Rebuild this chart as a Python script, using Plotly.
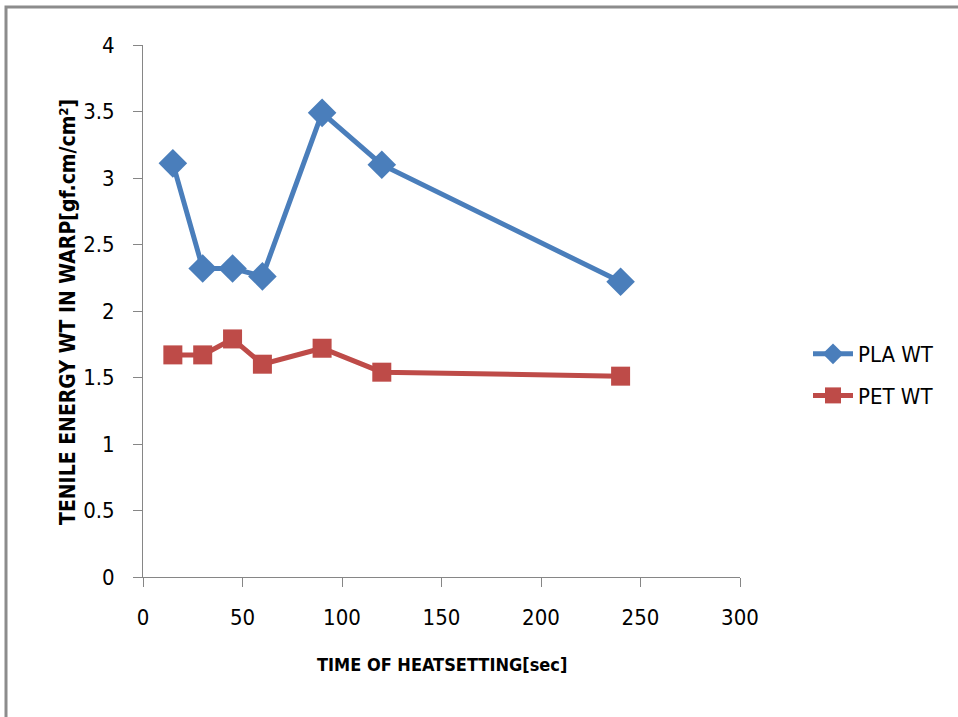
import plotly.graph_objects as go

time_sec = [15, 30, 45, 60, 90, 120, 240]
pla_wt = [3.11, 2.32, 2.32, 2.26, 3.49, 3.10, 2.22]
pet_wt = [1.67, 1.67, 1.79, 1.60, 1.72, 1.54, 1.51]

x_ticks = [0, 50, 100, 150, 200, 250, 300]
y_ticks = [0, 0.5, 1, 1.5, 2, 2.5, 3, 3.5, 4]
y_ticktext = ["0", "0.5", "1", "1.5", "2", "2.5", "3", "3.5", "4"]

FONT = "Liberation Sans Narrow, DejaVu Sans Condensed, Arial Narrow, sans-serif"

fig = go.Figure()
fig.add_trace(go.Scatter(
    x=time_sec, y=pla_wt, name="PLA WT", mode="lines+markers", legendgroup="a",
    line=dict(color="#4A7EBB", width=5),
    marker=dict(symbol="diamond", size=22, color="#4A7EBB"),
))
fig.add_trace(go.Scatter(
    x=time_sec, y=pet_wt, name="PET WT", mode="lines+markers", legendgroup="b",
    line=dict(color="#BE4B48", width=5),
    marker=dict(symbol="square", size=19, color="#BE4B48"),
))

L, R, T, B = 143, 218, 45, 140
W, H = 958, 717
pw, ph = W - L - R, H - T - B

fig.update_layout(
    width=W, height=H,
    margin=dict(l=L, r=R, t=T, b=B),
    paper_bgcolor="white", plot_bgcolor="white",
    font=dict(family=FONT, color="#000000", size=22),
    showlegend=True,
    legend=dict(x=(808 - L) / pw, y=(577 - 333) / ph, xanchor="left", yanchor="top",
                font=dict(size=22, family=FONT), tracegroupgap=10,
                bgcolor="rgba(0,0,0,0)", itemwidth=40),
    xaxis=dict(range=[0, 300], tickvals=x_ticks, ticktext=[str(v) for v in x_ticks],
               showgrid=False, zeroline=False, showline=True, linecolor="#868686",
               linewidth=1, ticks="outside", ticklen=9, tickcolor="#868686",
               tickfont=dict(size=22, family=FONT), ticklabelstandoff=12),
    yaxis=dict(range=[0, 4], tickvals=y_ticks, ticktext=y_ticktext,
               showgrid=False, zeroline=False, showline=True, linecolor="#868686",
               linewidth=1, ticks="outside", ticklen=9, tickcolor="#868686",
               tickfont=dict(size=22, family=FONT), ticklabelstandoff=14),
    annotations=[
        dict(text="<b>TIME OF HEATSETTING[sec]</b>", xref="paper", yref="paper",
             x=(442 - L) / pw, y=-(665 - 577) / ph, xanchor="center", yanchor="middle",
             showarrow=False, font=dict(size=18, family=FONT)),
        dict(text="<b>TENILE ENERGY WT IN WARP[gf.cm/cm²]</b>", xref="paper", yref="paper",
             x=-(L - 68) / pw, y=(577 - 312) / ph, xanchor="center", yanchor="middle",
             textangle=-90, showarrow=False, font=dict(size=21, family=FONT)),
    ],
    shapes=[
        dict(type="rect", xref="paper", yref="paper",
             x0=(6 - L) / pw, x1=(975 - L) / pw,
             y0=-(740 - 577) / ph, y1=(577 - 7) / ph,
             line=dict(color="#8C8C8C", width=3), fillcolor="rgba(0,0,0,0)", layer="below"),
    ],
)

fig.write_html("out.html")
